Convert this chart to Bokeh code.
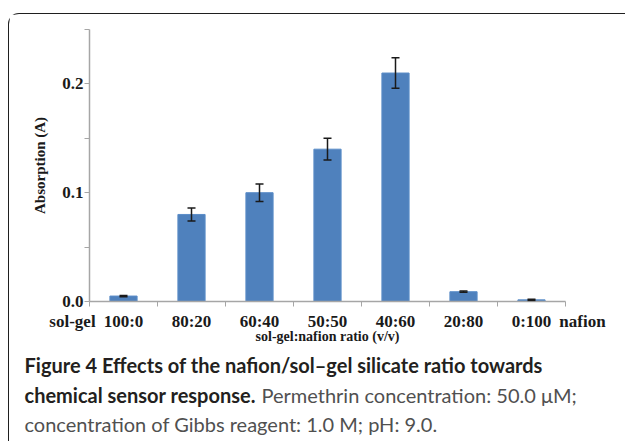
from bokeh.plotting import figure
from bokeh.models import (ColumnDataSource, Range1d, LinearAxis, FixedTicker, Whisker,
                          Label, TeeHead, NumeralTickFormatter, CustomJSTickFormatter)
from bokeh.embed import file_html
from bokeh.resources import INLINE

categories = ["100:0", "80:20", "60:40", "50:50", "40:60", "20:80", "0:100"]
absorption = [0.005, 0.080, 0.100, 0.140, 0.210, 0.009, 0.0015]
errors = [0.0006, 0.006, 0.008, 0.010, 0.014, 0.0006, 0.0006]
y_ticks = [0.0, 0.1, 0.2]
y_minor_ticks = [0.05, 0.15, 0.25]
y_max = 0.25

x_title = "sol-gel:nafion ratio (v/v)"
y_title = "Absorption (A)"
left_end_label = "sol-gel"
right_end_label = "nafion"
caption_1 = "Figure 4 Effects of the nafion/sol\u2013gel silicate ratio towards"
caption_2_bold = "chemical sensor response."
caption_2_rest = "Permethrin concentration: 50.0 \u03bcM;"
caption_3 = "concentration of Gibbs reagent: 1.0 M; pH: 9.0."

n = len(categories)
xpos = [i + 0.5 for i in range(n)]
src = ColumnDataSource(dict(
    x=xpos, top=absorption,
    upper=[a + e for a, e in zip(absorption, errors)],
    lower=[a - e for a, e in zip(absorption, errors)],
))

SERIF = "Liberation Serif"
AX = "#A6A6A6"

p = figure(width=617, height=428, output_backend="svg", toolbar_location=None,
           x_range=Range1d(0, n), y_range=Range1d(0, y_max),
           x_axis_type=None, y_axis_type=None,
           min_border_left=80, min_border_right=61, min_border_top=15, min_border_bottom=141)
p.margin = (13, 0, 0, 8)
p.styles = {"border-top": "1.5px solid #1f1f1f", "border-left": "1.5px solid #1f1f1f",
            "border-top-left-radius": "11px"}
p.outline_line_color = None
p.background_fill_color = "white"
p.border_fill_color = "white"

p.vbar(x="x", top="top", bottom=0, width=0.4, source=src,
       fill_color="#4F81BD", line_color="#5B8DC8", line_width=1)

wh = Whisker(source=src, base="x", upper="upper", lower="lower",
             line_color="#1a1a1a", line_width=1.5, level="overlay",
             upper_head=TeeHead(size=8, line_color="#1a1a1a", line_width=1.5),
             lower_head=TeeHead(size=8, line_color="#1a1a1a", line_width=1.5))
p.add_layout(wh)

yaxis = LinearAxis(ticker=FixedTicker(ticks=y_ticks, minor_ticks=y_minor_ticks),
                   formatter=NumeralTickFormatter(format="0.0"),
                   axis_label=y_title)
yaxis.axis_line_color = AX
yaxis.axis_line_width = 1.5
yaxis.major_tick_line_color = AX
yaxis.minor_tick_line_color = AX
yaxis.major_tick_out = 5
yaxis.major_tick_in = 0
yaxis.minor_tick_out = 5
yaxis.minor_tick_in = 0
yaxis.major_label_text_font = SERIF
yaxis.major_label_text_font_style = "bold"
yaxis.major_label_text_font_size = "17px"
yaxis.major_label_text_color = "#1a1a1a"
yaxis.major_label_standoff = 1
yaxis.axis_label_text_font = SERIF
yaxis.axis_label_text_font_style = "bold"
yaxis.axis_label_text_font_size = "15px"
yaxis.axis_label_text_color = "#1a1a1a"
yaxis.axis_label_standoff = 11
p.add_layout(yaxis, "left")

# category labels at bar centres, end labels at the two ends of the axis
x_label_ticks = [0.0] + xpos + [float(n)]
xaxis = LinearAxis(ticker=FixedTicker(ticks=x_label_ticks, minor_ticks=list(range(n + 1))),
                   formatter=CustomJSTickFormatter(
                       args=dict(cats=categories, left=left_end_label, right=right_end_label, n=n),
                       code="""
                           const pad = '\\u2003\\u2003';
                           if (tick <= 0) return left + pad;
                           if (tick >= n) return pad + right;
                           return cats[Math.floor(tick)];
                       """),
                   axis_label=x_title)
xaxis.axis_line_color = AX
xaxis.axis_line_width = 1.5
xaxis.major_tick_out = 0
xaxis.major_tick_in = 0
xaxis.minor_tick_line_color = AX
xaxis.minor_tick_out = 5
xaxis.minor_tick_in = 0
xaxis.major_label_text_font = SERIF
xaxis.major_label_text_font_style = "bold"
xaxis.major_label_text_font_size = "17px"
xaxis.major_label_text_color = "#1a1a1a"
xaxis.major_label_standoff = 5
xaxis.axis_label_text_font = SERIF
xaxis.axis_label_text_font_style = "bold"
xaxis.axis_label_text_font_size = "14px"
xaxis.axis_label_text_color = "#1a1a1a"
xaxis.axis_label_standoff = -5
p.add_layout(xaxis, "below")

CAP = "Lato"
CAP_SIZE = "20px"

def cap(text, xo, yo, style, color):
    p.add_layout(Label(x=0, y=0, x_offset=xo, y_offset=yo, text=text,
                       text_font=CAP, text_font_size=CAP_SIZE, text_font_style=style,
                       text_color=color, text_align="left", text_baseline="middle",
                       text_line_height=1.0),
                 "below")

cap(caption_1, -65, -63, "bold", "#231f20")
cap(caption_2_bold, -65, -93, "bold", "#231f20")
cap(caption_2_rest, 172, -93, "normal", "#505050")
cap(caption_3, -65, -122, "normal", "#505050")

open("out.html", "w").write(file_html(p, INLINE))
